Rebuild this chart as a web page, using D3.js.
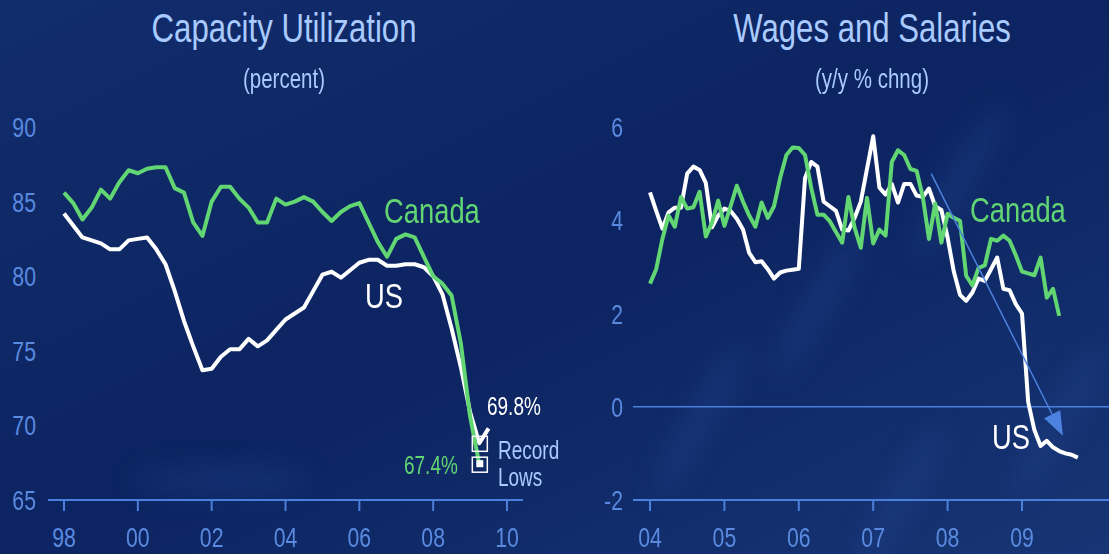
<!DOCTYPE html>
<html>
<head>
<meta charset="utf-8">
<script src="https://cdn.jsdelivr.net/npm/d3@7"></script>
<style>
  body { margin: 0; background: #0f2866; }
  svg text { font-family: "Liberation Sans", Arial, sans-serif; }
</style>
</head>
<body>
<svg id="chart" width="1109" height="554"></svg>
<script>
// capacity utilization, quarterly from 1998Q1 (percent)
var capCanada = [85.6, 84.9, 83.8, 84.6, 85.8, 85.2, 86.3, 87.1, 86.9, 87.2, 87.3, 87.3,
    85.9, 85.6, 83.6, 82.7, 85.0, 86.0, 86.0, 85.2, 84.6, 83.6, 83.6, 85.2,
    84.8, 85.0, 85.3, 85.0, 84.3, 83.7, 84.3, 84.7, 84.9, 83.6, 82.3, 81.3,
    82.5, 82.8, 82.6, 81.3, 80.0, 79.5, 78.7, 75.5, 70.6, 67.4];
var capUS = [84.2, 83.4, 82.6, 82.4, 82.2, 81.8, 81.8, 82.4, 82.5, 82.6, 81.8, 80.8,
    79.0, 77.0, 75.3, 73.7, 73.8, 74.6, 75.1, 75.1, 75.8, 75.3, 75.7, 76.4,
    77.1, 77.5, 77.9, 79.0, 80.1, 80.3, 79.9, 80.4, 80.9, 81.1, 81.1, 80.7,
    80.7, 80.8, 80.8, 80.6, 80.0, 78.8, 76.5, 73.9, 70.9, 68.8, 69.8];
var capTicksX = [1998, 2000, 2002, 2004, 2006, 2008, 2010];
var capTicksY = [65, 70, 75, 80, 85, 90];

// wages and salaries, monthly from Jan 2004 (y/y % chng)
var wageCanada = [2.64, 2.95, 3.6, 4.1, 3.86, 4.5, 4.25, 4.28, 4.61, 3.65, 3.95, 4.42,
    3.88, 4.3, 4.74, 4.4, 4.1, 3.86, 4.38, 4.05, 4.3, 4.91, 5.4, 5.56,
    5.55, 5.4, 4.7, 4.12, 4.12, 3.98, 3.75, 3.52, 4.5, 3.84, 3.41, 4.48,
    3.5, 3.8, 3.67, 5.25, 5.5, 5.4, 5.1, 5.06, 4.5, 3.6, 4.36, 3.52,
    4.14, 4.05, 3.99, 2.81, 2.6, 2.98, 3.03, 3.6, 3.56, 3.67, 3.56, 3.25,
    2.9, 2.86, 2.82, 3.2, 2.34, 2.53, 1.95];
var wageUS = [4.6, 4.2, 3.82, 4.17, 4.27, 4.27, 5.0, 5.15, 5.08, 4.8, 3.85, 4.1,
    4.25, 4.2, 4.03, 3.8, 3.3, 3.1, 3.12, 2.95, 2.75, 2.88, 2.92, 2.94,
    2.96, 4.9, 5.25, 5.15, 4.4, 4.3, 4.2, 3.8, 3.78, 4.05, 4.4, 5.1,
    5.8, 4.7, 4.55, 4.78, 4.38, 4.78, 4.78, 4.53, 4.5, 4.68, 4.3, 4.22,
    3.63, 2.9, 2.4, 2.27, 2.45, 2.75, 2.7, 2.95, 3.2, 2.53, 2.5, 2.2,
    2.0, 0.1, -0.5, -0.84, -0.73, -0.87, -0.95, -1.0, -1.03, -1.09];
var wageTicksX = [2004, 2005, 2006, 2007, 2008, 2009];
var wageTicksY = [-2, 0, 2, 4, 6];

var GREEN = "#62d673", WHITE = "#ffffff", AXIS = "#4b7fdc", TICKTXT = "#5a8ae0", TITLE = "#a9cbff";
var NARROW = 0.76; // squeeze a regular face into a condensed look

var svg = d3.select("#chart");

// background with soft streaks
var defs = svg.append("defs");
var bg = defs.append("linearGradient").attr("id", "bg").attr("x1", 0).attr("y1", 0).attr("x2", 1).attr("y2", 1);
bg.append("stop").attr("offset", 0).attr("stop-color", "#122d6c");
bg.append("stop").attr("offset", 0.5).attr("stop-color", "#0c2461");
bg.append("stop").attr("offset", 1).attr("stop-color", "#173574");
defs.append("filter").attr("id", "blur").append("feGaussianBlur").attr("stdDeviation", 14);
svg.append("rect").attr("width", 1109).attr("height", 554).attr("fill", "url(#bg)");
var streaks = svg.append("g").attr("filter", "url(#blur)").attr("fill", "#2a4f9a").attr("opacity", 0.3);
[[700, 420, -60], [820, 300, -60], [960, 180, -60], [1060, 420, -60], [900, 500, -60], [220, 480, 0]].forEach(function (s) {
    streaks.append("ellipse").attr("cx", s[0]).attr("cy", s[1]).attr("rx", 90).attr("ry", 14)
        .attr("transform", "rotate(" + s[2] + "," + s[0] + "," + s[1] + ")");
});

// condensed text component: appends a squeezed text at (x, y)
function ctext(sel, x, y, txt, color, size, anchor) {
    sel.append("g").attr("transform", "translate(" + x + "," + y + ") scale(" + NARROW + ",1)")
        .append("text").attr("text-anchor", anchor || "start")
        .attr("font-size", size).attr("fill", color).text(txt);
}

function title(cx, main, sub) {
    ctext(svg, cx, 42, main, TITLE, 41, "middle");
    ctext(svg, cx, 88, sub, TITLE, 27, "middle");
}

// draws bottom axis line, ticks, tick labels and left value labels
function frame(g, x, y, x0, x1, ticksX, ticksY, fmtX, labelRight, gridAt) {
    var base = y(ticksY[0]);
    g.append("line").attr("x1", x0).attr("x2", x1).attr("y1", base).attr("y2", base)
        .attr("stroke", AXIS).attr("stroke-width", 2);
    if (gridAt !== undefined) {
        g.append("line").attr("x1", x0).attr("x2", x1).attr("y1", y(gridAt)).attr("y2", y(gridAt))
            .attr("stroke", AXIS).attr("stroke-width", 1.5);
    }
    g.selectAll(".tk").data(ticksX).enter().append("line")
        .attr("x1", x).attr("x2", x).attr("y1", base).attr("y2", base + 11)
        .attr("stroke", AXIS).attr("stroke-width", 2);
    ticksX.forEach(d => ctext(g, x(d), 547, fmtX(d), TICKTXT, 28, "middle"));
    ticksY.forEach(d => ctext(g, labelRight, y(d) + 10, String(d), TICKTXT, 28, "end"));
}

function series(g, data, x, y, start, step, color) {
    var line = d3.line().x((d, i) => x(start + i * step)).y(d => y(d));
    g.append("path").attr("d", line(data)).attr("fill", "none")
        .attr("stroke", color).attr("stroke-width", 4).attr("stroke-linejoin", "round");
}

var yy = d => String(d % 100).padStart(2, "0");

// ---- left: capacity utilization
var xL = d3.scaleLinear().domain([1998, 2010]).range([64, 507]);
var yL = d3.scaleLinear().domain([65, 90]).range([500, 127]);
var left = svg.append("g");
title(284, "Capacity Utilization", "(percent)");
frame(left, xL, yL, 48, 523, capTicksX, capTicksY, yy, 36);
series(left, capUS, xL, yL, 1998, 0.25, WHITE);
series(left, capCanada, xL, yL, 1998, 0.25, GREEN);

// record-low boxes
var lows = [[1998 + 45 * 0.25, capUS[45]], [1998 + 45 * 0.25, capCanada[45]]];
left.selectAll(".box").data(lows).enter().append("rect")
    .attr("x", d => xL(d[0]) - 7).attr("y", d => yL(d[1]) - 7).attr("width", 15).attr("height", 15)
    .attr("fill", "none").attr("stroke", WHITE).attr("stroke-width", 1.5);
left.append("rect").attr("x", xL(lows[1][0]) - 3).attr("y", yL(lows[1][1]) - 4)
    .attr("width", 7).attr("height", 7).attr("fill", WHITE);
ctext(left, 384, 223, "Canada", GREEN, 36);
ctext(left, 365, 308, "US", WHITE, 36);
ctext(left, 487, 415, "69.8%", WHITE, 25);
ctext(left, 404, 474, "67.4%", GREEN, 25);
ctext(left, 498, 459, "Record", TITLE, 25);
ctext(left, 498, 486, "Lows", TITLE, 25);

// ---- right: wages and salaries
var xR = d3.scaleLinear().domain([2004, 2009]).range([650, 1022]);
var yR = d3.scaleLinear().domain([-2, 6]).range([500, 127]);
var right = svg.append("g");
title(872, "Wages and Salaries", "(y/y % chng)");
frame(right, xR, yR, 633, 1109, wageTicksX, wageTicksY, yy, 623, 0);
series(right, wageUS, xR, yR, 2004, 1 / 12, WHITE);
series(right, wageCanada, xR, yR, 2004, 1 / 12, GREEN);

// trend arrow
var a0 = [2007.78, 5.0], a1 = [2009.55, -0.62];
var p0 = [xR(a0[0]), yR(a0[1])], p1 = [xR(a1[0]), yR(a1[1])];
var ang = Math.atan2(p1[1] - p0[1], p1[0] - p0[0]);
var hl = 24, hw = 9;
var bx = p1[0] - hl * Math.cos(ang), by = p1[1] - hl * Math.sin(ang);
right.append("line").attr("x1", p0[0]).attr("y1", p0[1]).attr("x2", bx).attr("y2", by)
    .attr("stroke", "#4d82e0").attr("stroke-width", 1.5);
right.append("path").attr("fill", "#4d82e0")
    .attr("d", "M" + p1[0] + "," + p1[1] +
        "L" + (bx + hw * Math.sin(ang)) + "," + (by - hw * Math.cos(ang)) +
        "L" + (bx - hw * Math.sin(ang)) + "," + (by + hw * Math.cos(ang)) + "Z");
ctext(right, 970, 222, "Canada", GREEN, 36);
ctext(right, 992, 449, "US", WHITE, 36);
</script>
</body>
</html>
